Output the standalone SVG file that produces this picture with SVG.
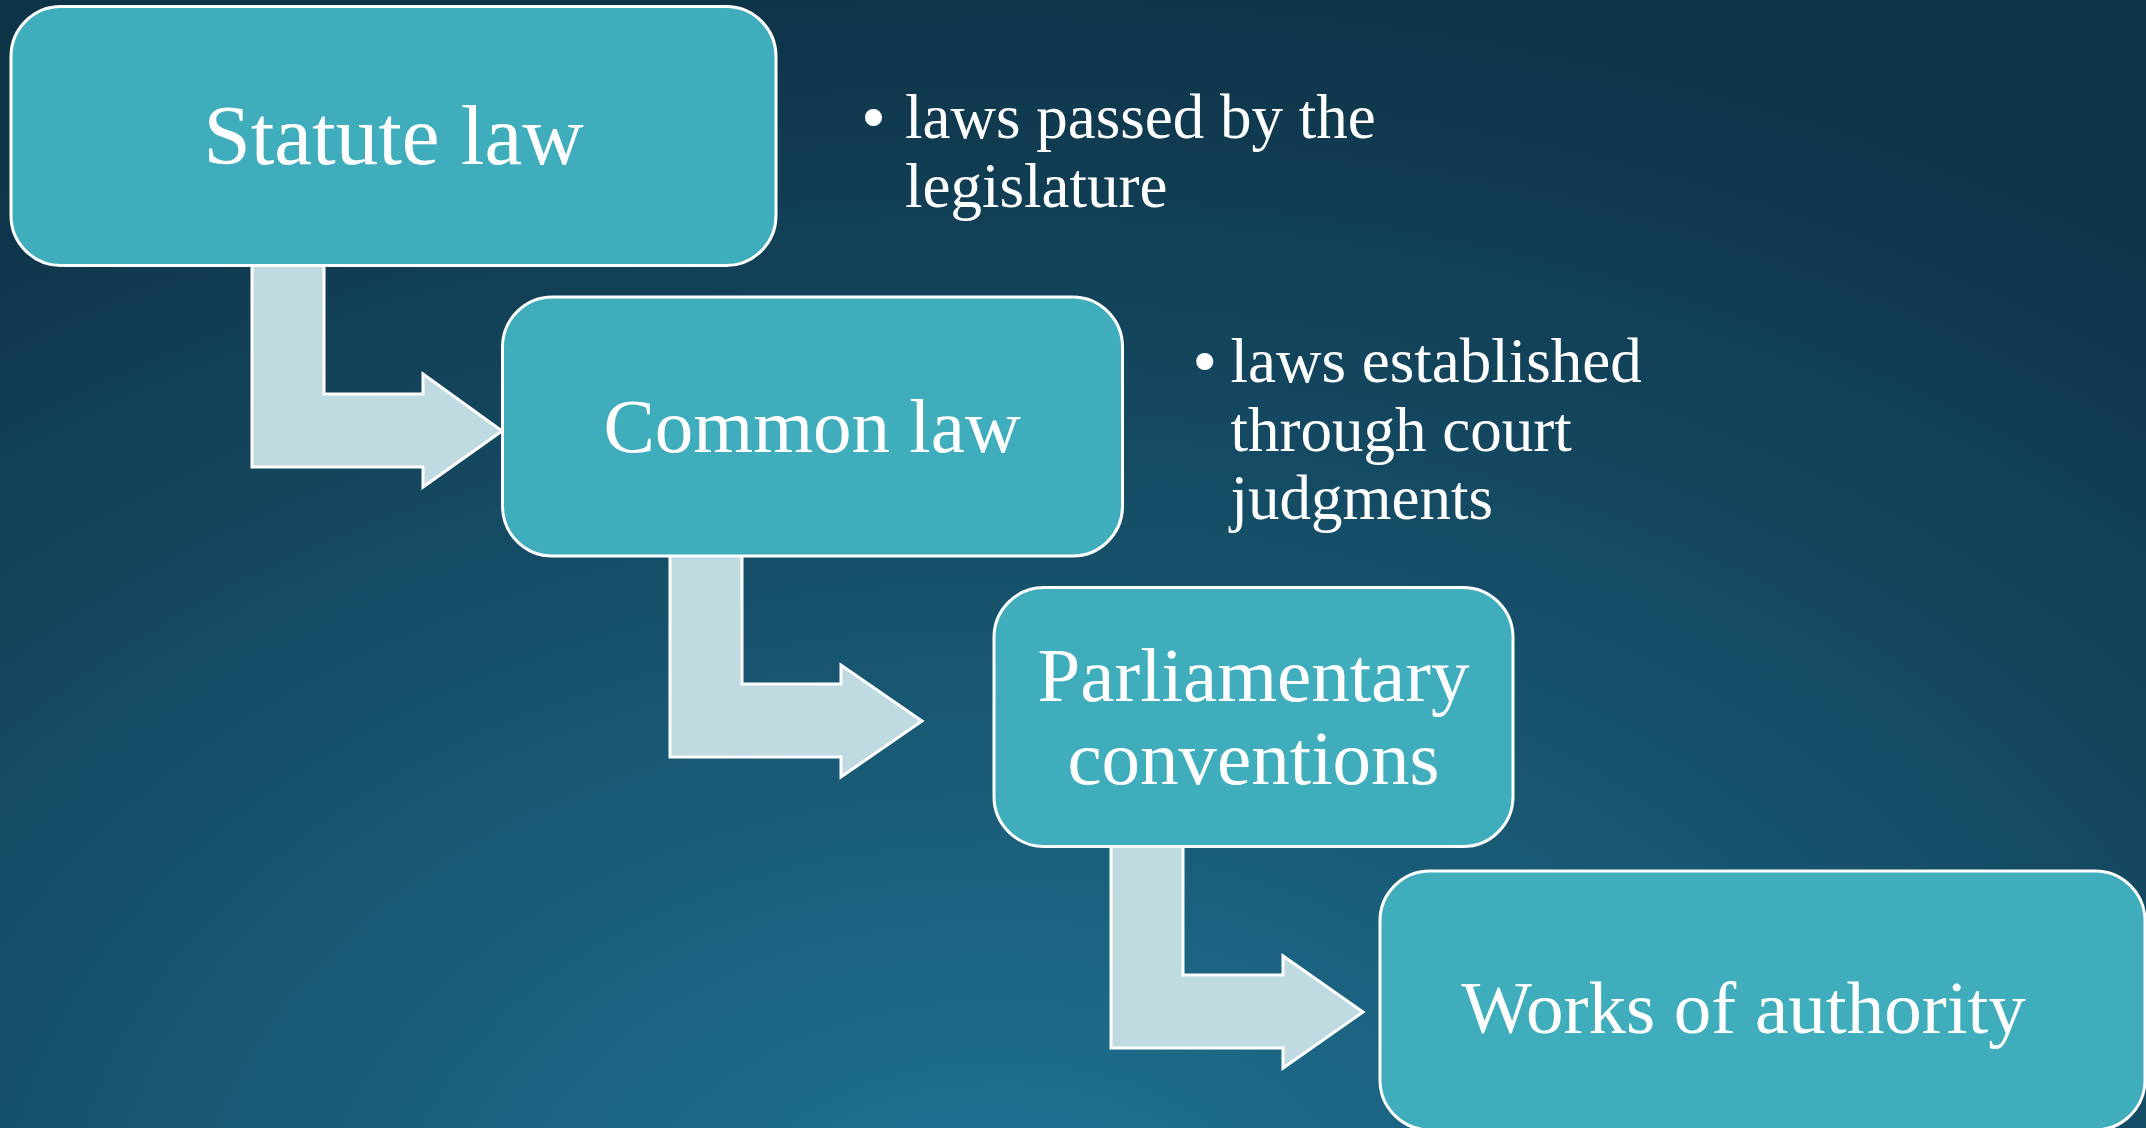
<svg xmlns="http://www.w3.org/2000/svg" width="2146" height="1128" viewBox="0 0 2146 1128">
  <defs>
    <radialGradient id="bg" cx="1000" cy="1250" r="1250" gradientUnits="userSpaceOnUse" gradientTransform="translate(1000 1250) scale(1.5 1) translate(-1000 -1250)">
      <stop offset="0" stop-color="#1f7597"/>
      <stop offset="0.45" stop-color="#185772"/>
      <stop offset="1" stop-color="#0e3448"/>
    </radialGradient>
  </defs>
  <style>
    .box { fill: #3fadbc; stroke: #ffffff; stroke-width: 3; }
    .arrow { fill: #bfdbe1; stroke: #ffffff; stroke-width: 3; stroke-linejoin: miter; }
    .lbl { fill: #ffffff; font-family: "Liberation Serif", "Times New Roman", serif; text-anchor: middle; }
    .note { fill: #ffffff; font-family: "Liberation Serif", "Times New Roman", serif; font-size: 63px; }
    .dot { fill: #ffffff; font-family: "Liberation Sans", Arial, sans-serif; font-size: 63px; text-anchor: middle; }
  </style>
  <rect x="0" y="0" width="2146" height="1128" fill="url(#bg)"/>

  <g id="connectors">
    <polygon class="arrow" points="252,262 324,262 324,394 423,394 423,374 502,431 423,487 423,467 252,467"/>
    <polygon class="arrow" points="670,553 742,553 742,684 841,684 841,665 922,721 841,777 841,757 670,757"/>
    <polygon class="arrow" points="1111,843 1183,843 1183,975 1283,975 1283,956 1363,1012 1283,1068 1283,1048 1111,1048"/>
  </g>

  <g id="node-statute">
    <rect class="box" x="11" y="6.5" width="765" height="259" rx="50" ry="50"/>
    <text class="lbl" x="393.5" y="164" font-size="85">Statute law</text>
  </g>
  <g id="node-common">
    <rect class="box" x="502.5" y="297" width="620" height="259" rx="50" ry="50"/>
    <text class="lbl" x="812" y="452" font-size="77">Common law</text>
  </g>
  <g id="node-parliamentary">
    <rect class="box" x="994" y="587.5" width="519" height="259" rx="50" ry="50"/>
    <text class="lbl" x="1253.5" y="701" font-size="77">Parliamentary</text>
    <text class="lbl" x="1253.5" y="784" font-size="77">conventions</text>
  </g>
  <g id="node-works">
    <rect class="box" x="1380" y="871" width="765" height="259" rx="50" ry="50"/>
    <text class="lbl" x="1743.5" y="1033" font-size="75">Works of authority</text>
  </g>

  <g id="note-statute">
    <text class="dot" x="873.5" y="138">•</text>
    <text class="note" x="905" y="138">laws passed by the</text>
    <text class="note" x="905" y="206.7">legislature</text>
  </g>
  <g id="note-common">
    <text class="dot" x="1204.7" y="381.7">•</text>
    <text class="note" x="1230.5" y="381.7">laws established</text>
    <text class="note" x="1230.5" y="450.5">through court</text>
    <text class="note" x="1230.5" y="519">judgments</text>
  </g>
</svg>
